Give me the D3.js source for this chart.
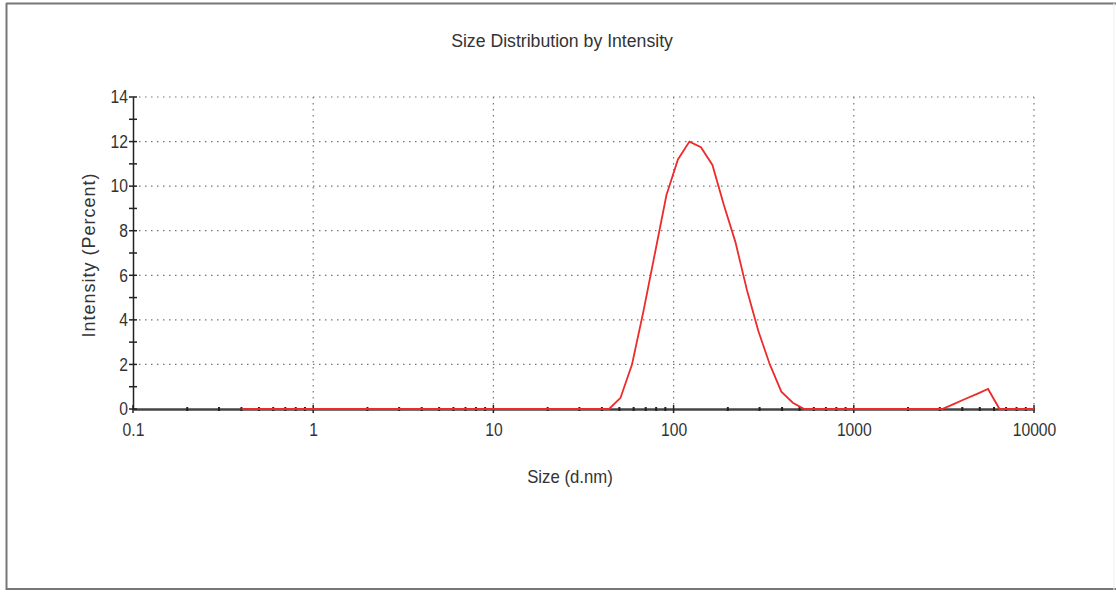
<!DOCTYPE html>
<html>
<head>
<meta charset="utf-8">
<script src="https://cdn.jsdelivr.net/npm/d3@7"></script>
<style>
html,body{margin:0;padding:0;background:#fff;}
text{font-family:"Liberation Sans",Arial,sans-serif;fill:#333;}
.narrow{transform-box:fill-box;transform-origin:50% 50%;transform:scaleX(0.87);}
.narrowR{transform-box:fill-box;transform-origin:100% 50%;transform:scaleX(0.87);}
.tnarrow{transform-box:fill-box;transform-origin:50% 50%;transform:scaleX(0.93);}
</style>
</head>
<body>
<svg id="chart" width="1116" height="592"></svg>
<script>
const title = "Size Distribution by Intensity";
const xLabel = "Size (d.nm)";
const yLabel = "Intensity (Percent)";
const sizes = [0.4,0.4632,0.5365,0.6213,0.7195,0.8332,0.9649,1.117,1.294,1.499,1.736,2.01,2.328,2.696,3.122,3.615,4.187,4.849,5.615,6.503,7.531,8.721,10.1,11.7,13.54,15.69,18.17,21.04,24.36,28.21,32.67,37.84,43.82,50.75,58.77,68.06,78.82,91.28,105.7,122.4,141.8,164.2,190.1,220.2,255.0,295.3,342.0,396.1,458.7,531.2,615.1,712.4,825.0,955.4,1106,1281,1484,1718,1990,2305,2669,3091,3580,4145,4801,5560,6439,7456,8635,10000];
const intensity = [0,0,0,0,0,0,0,0,0,0,0,0,0,0,0,0,0,0,0,0,0,0,0,0,0,0,0,0,0,0,0,0,0,0.5,2.0,4.4,7.0,9.6,11.2,12.0,11.75,10.95,9.15,7.5,5.35,3.5,2.0,0.78,0.28,0,0,0,0,0,0,0,0,0,0,0,0,0,0.22,0.45,0.67,0.9,0,0,0,0];
const xTicks = [0.1,1,10,100,1000,10000];
const xTickLabels = ["0.1","1","10","100","1000","10000"];
const yTicks = [0,2,4,6,8,10,12,14];

const svg = d3.select("#chart");
// outer frame
svg.append("line").attr("x1",6).attr("x2",1116).attr("y1",3.5).attr("y2",3.5).attr("stroke","#777").attr("stroke-width",2);
svg.append("line").attr("x1",6).attr("x2",1116).attr("y1",589).attr("y2",589).attr("stroke","#777").attr("stroke-width",2);
svg.append("line").attr("x1",6.5).attr("x2",6.5).attr("y1",3).attr("y2",590).attr("stroke","#777").attr("stroke-width",2);
svg.append("line").attr("x1",1114).attr("x2",1114).attr("y1",3).attr("y2",590).attr("stroke","#eee").attr("stroke-width",1);

const x = d3.scaleLog().domain([0.1,10000]).range([133,1034]);
const y = d3.scaleLinear().domain([0,14]).range([409,97]);

// grid lines
const grid = svg.append("g");
grid.selectAll("line.h").data(yTicks.filter(d=>d>0)).join("line")
  .attr("x1",x(0.1)).attr("x2",x(10000)).attr("y1",d=>y(d)).attr("y2",d=>y(d))
  .attr("stroke","#777").attr("stroke-width",1.2).attr("stroke-dasharray","1.5,4.5");
grid.selectAll("line.v").data(xTicks.filter(d=>d>0.1)).join("line")
  .attr("x1",d=>x(d)).attr("x2",d=>x(d)).attr("y1",y(14)).attr("y2",y(0))
  .attr("stroke","#777").attr("stroke-width",1.2).attr("stroke-dasharray","1.5,4.5");

// x axis
const minor = [];
for (let e=-1;e<4;e++) for (let m=2;m<=9;m++) minor.push(m*Math.pow(10,e));
const xAxis = svg.append("g").attr("transform",`translate(0,${y(0)})`)
  .call(d3.axisBottom(x).tickValues(xTicks).tickSize(0).tickPadding(14).tickFormat((d,i)=>xTickLabels[i]));
xAxis.select(".domain").attr("stroke","#444").attr("stroke-width",2.5);
xAxis.selectAll("text").attr("font-size",18).attr("fill","#333").attr("class","narrow");
svg.append("g").selectAll("line").data(xTicks).join("line")
  .attr("x1",d=>x(d)).attr("x2",d=>x(d)).attr("y1",y(0)-4).attr("y2",y(0)+4).attr("stroke","#222").attr("stroke-width",1.5);
svg.append("g").selectAll("line").data(minor).join("line")
  .attr("x1",d=>x(d)).attr("x2",d=>x(d)).attr("y1",y(0)-2).attr("y2",y(0)+2).attr("stroke","#222").attr("stroke-width",2);

// y axis
const yAxis = svg.append("g").attr("transform",`translate(${x(0.1)},0)`)
  .call(d3.axisLeft(y).tickValues(yTicks).tickSize(0).tickPadding(5));
yAxis.select(".domain").attr("stroke","#222").attr("stroke-width",1.5);
yAxis.selectAll("text").attr("font-size",18).attr("fill","#333").attr("class","narrowR");
svg.append("g").selectAll("line").data(d3.range(0,15)).join("line")
  .attr("x1",x(0.1)-4).attr("x2",x(0.1)+4).attr("y1",d=>y(d)).attr("y2",d=>y(d)).attr("stroke","#222").attr("stroke-width",1.5);

// data line
const data = sizes.map((s,i)=>({s, v:intensity[i]}));
svg.append("path").datum(data)
  .attr("fill","none").attr("stroke","#ee2b2b").attr("stroke-width",1.8)
  .attr("d", d3.line().x(d=>x(d.s)).y(d=>y(d.v)));

// labels
svg.append("text").attr("x",562).attr("y",47).attr("text-anchor","middle").attr("font-size",19).attr("class","tnarrow").text(title);
svg.append("text").attr("x",570).attr("y",483).attr("text-anchor","middle").attr("font-size",18).attr("class","tnarrow").text(xLabel);
svg.append("text").attr("transform","translate(95,255) rotate(-90)").attr("text-anchor","middle").attr("font-size",18).attr("letter-spacing","1").text(yLabel);
</script>
</body>
</html>
